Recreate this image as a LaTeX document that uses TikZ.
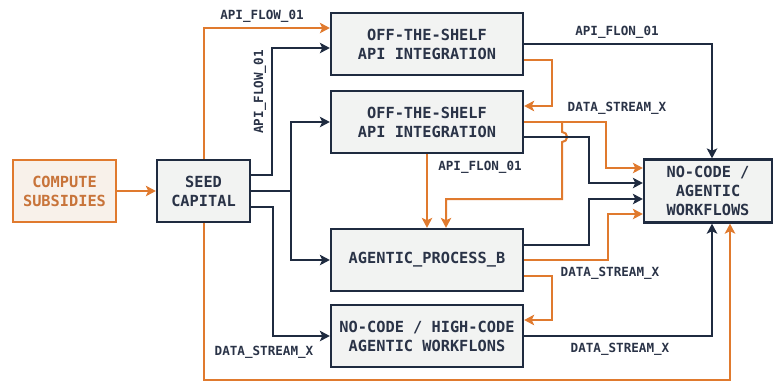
\documentclass[tikz,border=0pt]{standalone}
\usepackage{fontspec}
\setmonofont{DejaVu Sans Mono}
\usetikzlibrary{arrows.meta}
\definecolor{navy}{HTML}{1F2B40}
\definecolor{rust}{HTML}{E07A2E}
\definecolor{rustink}{HTML}{C8743A}
\definecolor{boxfill}{HTML}{F2F3F2}
\definecolor{rustfill}{HTML}{F8F1EA}
\definecolor{ink}{HTML}{2A3347}
\newcommand{\boxfont}{\ttfamily\bfseries\fontsize{15.3}{19}\selectfont}
\newcommand{\flowfont}{\ttfamily\bfseries\fontsize{12.6}{14}\selectfont}

\begin{document}
\begin{tikzpicture}[->,>={Stealth[length=10pt,width=10.5pt,inset=2.5pt]},x=1pt,y=-1pt,line width=2pt,
    box/.style={rectangle,draw=navy,fill=boxfill,line width=2.3pt,minimum width=192pt,minimum height=62pt,inner sep=0pt,align=center,text=ink,font=\boxfont},
    navy flow/.style={draw=navy},
    rust flow/.style={draw=rust},
    flow label/.style={text=ink,font=\flowfont,inner sep=0pt}]

    \useasboundingbox (0,0) rectangle (774,381);

    \node[box] (ots1) at (427,44) {OFF-THE-SHELF\\API INTEGRATION};
    \node[box] (ots2) at (427,122) {OFF-THE-SHELF\\API INTEGRATION};
    \node[box] (agp) at (427,260) {AGENTIC\_PROCESS\_B};
    \node[box] (nchc) at (427,336) {NO-CODE / HIGH-CODE\\AGENTIC WORKFLONS};
    \node[box,minimum width=93pt] (seed) at (203.5,191) {SEED\\CAPITAL};
    \node[box,minimum width=103pt,draw=rust,fill=rustfill,text=rustink] (comp) at (64.5,191) {COMPUTE\\SUBSIDIES};
    \node[box,minimum width=128pt,minimum height=63pt] (nca) at (708,191) {NO-CODE /\\AGENTIC\\WORKFLOWS};

    % seed capital fan-out
    \draw[rust flow] (comp) -- (seed);
    \draw[rust flow] (seed.north) |- ([yshift=16pt]ots1.west);
    \draw[navy flow] ([yshift=16pt]seed.east) -- ++(21,0) |- ([yshift=-4pt]ots1.west);
    \draw[navy flow,-] (seed.east) -- ++(40,0) coordinate (split);
    \draw[navy flow] (split) |- (ots2.west);
    \draw[navy flow] (split) |- (agp.west);
    \draw[navy flow] ([yshift=-16pt]seed.east) -- ++(22,0) |- (nchc.west);
    \draw[rust flow] (seed.south) -- ++(0,157) -| ([xshift=22pt]nca.south);

    % first integration
    \draw[navy flow] (ots1.east) -| ([xshift=4pt]nca.north);
    \draw[rust flow] ([yshift=-16pt]ots1.east) -- ++(28,0) |- ([yshift=16pt]ots2.east);

    % second integration
    \draw[rust flow] (ots2.east) -- ++(38,0) coordinate (fork) -- ++(44,0) |- ([yshift=23pt]nca.west);
    \draw[rust flow] (fork) -- ++(0,10) arc (-90:90:5) -- ++(0,57) -| ([xshift=19pt]agp.north);
    \draw[navy flow] ([yshift=-15pt]ots2.east) -- ++(65,0) |- ([yshift=8pt]nca.west);
    \draw[rust flow] (ots2) -- (agp);

    % agentic process
    \draw[navy flow] ([yshift=15pt]agp.east) -- ++(65,0) |- ([yshift=-8pt]nca.west);
    \draw[rust flow] (agp.east) -- ++(84,0) |- ([yshift=-23pt]nca.west);
    \draw[rust flow] ([yshift=-16pt]agp.east) -- ++(28,0) |- ([yshift=16pt]nchc.east);

    % high-code workflows
    \draw[navy flow] (nchc.east) -| ([xshift=4pt]nca.south);

    % labels
    \node[flow label] (l1) at (262,16) {API\_FLOW\_01};
    \node[flow label,rotate=90] (l2) at (260,92) {API\_FLOW\_01};
    \node[flow label] (l3) at (617,32) {API\_FLON\_01};
    \node[flow label] (l4) at (617,108) {DATA\_STREAM\_X};
    \node[flow label] (l5) at (480,167) {API\_FLON\_01};
    \node[flow label] (l6) at (610,273) {DATA\_STREAM\_X};
    \node[flow label] (l7) at (264,352) {DATA\_STREAM\_X};
    \node[flow label] (l8) at (620,349) {DATA\_STREAM\_X};
\end{tikzpicture}
\end{document}
